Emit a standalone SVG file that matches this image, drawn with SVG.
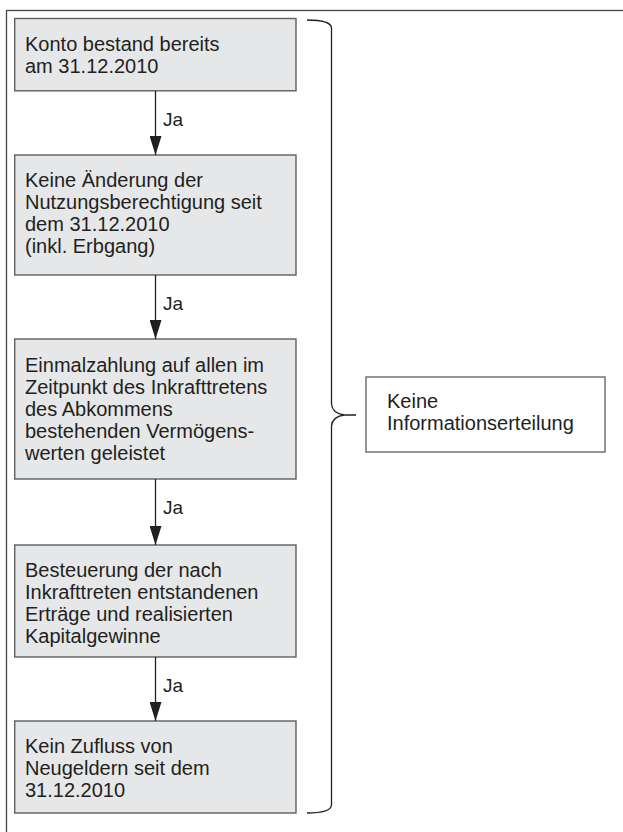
<svg xmlns="http://www.w3.org/2000/svg" width="623" height="832" viewBox="0 0 623 832">
<style>
.box{fill:#e6e7e8;stroke:#5f5f5f;stroke-width:1.4}
.rbox{fill:#ffffff;stroke:#5f5f5f;stroke-width:1.3}
.t{font-family:"Liberation Sans",Arial,sans-serif;font-size:20px;fill:#231f20}
.ja{font-family:"Liberation Sans",Arial,sans-serif;font-size:19px;fill:#231f20}
.conn{stroke:#231f20;stroke-width:1.3;fill:none}
</style>
<defs>
<marker id="ah" markerUnits="userSpaceOnUse" markerWidth="19" markerHeight="12" refX="19" refY="6" orient="auto" viewBox="0 0 19 12">
<path d="M0,0 L19,6 L0,12 Z" fill="#231f20"/>
</marker>
</defs>
<rect x="6.5" y="10.5" width="700" height="900" fill="none" stroke="#444" stroke-width="1.3"/>
<g id="node1">
<rect class="box" x="14.7" y="18.5" width="281.3" height="72.3"/>
<text class="t" x="25" y="50.7">Konto bestand bereits</text>
<text class="t" x="25" y="72.7">am 31.12.2010</text>
</g>
<g id="node2">
<rect class="box" x="14.7" y="155" width="281.3" height="120"/>
<text class="t" x="25" y="187">Keine Änderung der</text>
<text class="t" x="25" y="209">Nutzungsberechtigung seit</text>
<text class="t" x="25" y="231">dem 31.12.2010</text>
<text class="t" x="25" y="253">(inkl. Erbgang)</text>
</g>
<g id="node3">
<rect class="box" x="14.7" y="339" width="281.3" height="140"/>
<text class="t" x="25" y="372">Einmalzahlung auf allen im</text>
<text class="t" x="25" y="394">Zeitpunkt des Inkrafttretens</text>
<text class="t" x="25" y="416">des Abkommens</text>
<text class="t" x="25" y="438">bestehenden Vermögens-</text>
<text class="t" x="25" y="460">werten geleistet</text>
</g>
<g id="node4">
<rect class="box" x="14.7" y="545" width="281.3" height="112"/>
<text class="t" x="25" y="577">Besteuerung der nach</text>
<text class="t" x="25" y="599">Inkrafttreten entstandenen</text>
<text class="t" x="25" y="621">Erträge und realisierten</text>
<text class="t" x="25" y="643">Kapitalgewinne</text>
</g>
<g id="node5">
<rect class="box" x="14.7" y="721" width="281.3" height="92"/>
<text class="t" x="25" y="753">Kein Zufluss von</text>
<text class="t" x="25" y="775">Neugeldern seit dem</text>
<text class="t" x="25" y="797">31.12.2010</text>
</g>
<g id="node6">
<rect class="rbox" x="366" y="377" width="239" height="75"/>
<text class="t" x="387" y="408">Keine</text>
<text class="t" x="387" y="430">Informationserteilung</text>
</g>
<g id="connectors">
<line class="conn" x1="155.5" y1="90.8" x2="155.5" y2="155" marker-end="url(#ah)"/>
<line class="conn" x1="155.5" y1="275" x2="155.5" y2="339" marker-end="url(#ah)"/>
<line class="conn" x1="155.5" y1="479" x2="155.5" y2="545" marker-end="url(#ah)"/>
<line class="conn" x1="155.5" y1="657" x2="155.5" y2="721" marker-end="url(#ah)"/>
<text class="ja" x="163" y="126">Ja</text>
<text class="ja" x="163" y="310">Ja</text>
<text class="ja" x="163" y="514">Ja</text>
<text class="ja" x="163" y="692">Ja</text>
<path class="conn" stroke="#333" d="M307,20 Q331,20 331.5,28 L331.5,404 Q332,413 344,415 L356,415 M344,415 Q332,417 331.5,426 L331.5,805 Q331,813 307,813"/>
</g>
</svg>
